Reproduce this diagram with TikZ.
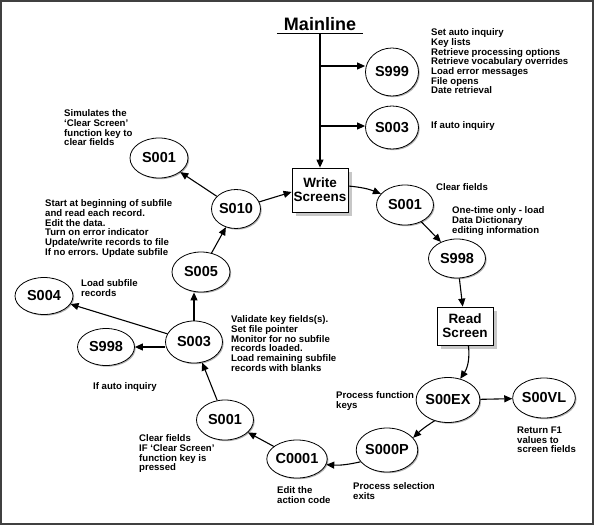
\documentclass[tikz,border=0pt]{standalone}
\usepackage{fontspec}
\setmainfont{Liberation Sans}
\usetikzlibrary{shapes.geometric,arrows.meta,shadows}
\begin{document}
\begin{tikzpicture}[x=1pt,y=-1pt,
  ell/.style={ellipse,draw,line width=0.8pt,fill=white,minimum width=57pt,minimum height=40pt,inner sep=0pt,
    font=\fontsize{14.5}{15}\selectfont\bfseries,
    drop shadow={shadow xshift=1.2pt,shadow yshift=-1.2pt,fill=black!30,opacity=1}},
  box/.style={rectangle,draw,line width=0.8pt,fill=white,minimum width=56pt,inner sep=0pt,align=center,
    font=\fontsize{13.5}{14}\selectfont\bfseries,
    drop shadow={shadow xshift=4pt,shadow yshift=-4pt,fill=black!22,opacity=1}},
  txt/.style={anchor=north west,inner sep=0pt,align=left,font=\fontsize{9.6}{9.7}\selectfont\bfseries},
  arr/.style={line width=1.1pt,-{Triangle[length=8pt,width=7pt]}},
]
\useasboundingbox (0,0) rectangle (594,525);
\draw[line width=1.6pt,black!75] (0.8,0.8) rectangle (593.2,524.2);

% nodes
\node[font=\fontsize{18}{20}\selectfont\bfseries,inner xsep=7pt,inner ysep=2.5pt,anchor=base] (ml) at (320,30.5) {Mainline};
\node[ell,minimum width=53pt,minimum height=48pt] (s999) at (392,72) {S999};
\node[ell,minimum width=53pt,minimum height=43pt] (s003t) at (392,127.5) {S003};
\node[box,minimum height=44pt] (ws) at (320,190) {Write\\Screens};
\node[ell] (s001r) at (405,205) {S001};
\node[ell,minimum height=39pt] (s998r) at (457,258.5) {S998};
\node[box,minimum height=38pt] (rs) at (465,326) {Read\\Screen};
\node[ell,minimum height=45pt] (s00ex) at (448,400) {S00EX};
\node[ell,minimum width=58pt] (s00vl) at (544,398) {S00VL};
\node[ell,minimum width=58pt,minimum height=44pt] (s000p) at (387,450) {S000P};
\node[ell,minimum height=38pt] (c0001) at (297,459) {C0001};
\node[ell] (s001b) at (225,420) {S001};
\node[ell,minimum height=42pt] (s003) at (194,342) {S003};
\node[ell,minimum height=37pt] (s998l) at (106,347) {S998};
\node[ell,minimum width=58pt,minimum height=37pt] (s004) at (44,296) {S004};
\node[ell,minimum width=58pt] (s005) at (201,272) {S005};
\node[ell,minimum width=49pt,minimum height=39pt] (s010) at (236,209) {S010};
\node[ell,minimum width=58pt] (s001l) at (159,158) {S001};

% texts
\node[txt] (t999) at (431,28.5) {Set auto inquiry\\Key lists\\Retrieve processing options\\Retrieve vocabulary overrides\\Load error messages\\File opens\\Date retrieval};
\node[txt] (t003) at (431,121.5) {If auto inquiry};
\node[txt] (tclr) at (436,183.5) {Clear fields};
\node[txt] (tone) at (452,206.5) {One-time only - load\\Data Dictionary\\editing information};
\node[txt] (tsim) at (64,109.5) {Simulates the\\`Clear Screen'\\function key to\\clear fields};
\node[txt] (tstart) at (45,199.5) {Start at beginning of subfile\\and read each record.\\Edit the data.\\Turn on error indicator\\Update/write records to file\\If no errors. Update subfile};
\node[txt] (tload) at (81,279.5) {Load subfile\\records};
\node[txt] (tval) at (231,315.5) {Validate key fields(s).\\Set file pointer\\Monitor for no subfile\\records loaded.\\Load remaining subfile\\records with blanks};
\node[txt] (tauto) at (93,382.5) {If auto inquiry};
\node[txt] (tpf) at (336,391.5) {Process function\\keys};
\node[txt] (tret) at (517,426.5) {Return F1\\values to\\screen fields};
\node[txt] (tps) at (353,482.5) {Process selection\\exits};
\node[txt] (tedit) at (277,486.5) {Edit the\\action code};
\node[txt] (tcf) at (139,434.5) {Clear fields\\IF `Clear Screen'\\function key is\\pressed};

% connectors
\draw[line width=1.1pt] (ml.south west) -- (ml.south east);
\draw[arr] (ml.south) -- (ws.north);
\coordinate (b1) at (320,66);
\coordinate (b2) at (320,126);
\draw[arr] (b1) -- (b1 -| s999.west);
\draw[arr] (b2) -- (b2 -| s003t.west);
\draw[arr] (ws.8) to[bend left=8] (s001r.155);
\draw[arr] (s001r) -- (s998r);
\draw[arr] (s998r) -- (rs);
\draw[arr] (rs.-80) to[bend left=20] (s00ex.60);
\draw[arr] (s00ex) -- (s00vl);
\draw[arr] (s00ex.237) to[bend right=6] (s000p.25);
\draw[arr] (s000p.204) to[bend left=8] (c0001.-11);
\draw[arr] (c0001) -- (s001b);
\draw[arr] (s001b) -- (s003);
\draw[arr] (s003.north) -- (s003.north |- s005.south);
\draw[arr] (s003) -- (s004);
\draw[arr] (s003.west |- s998l.east) -- (s998l.east);
\draw[arr] (s005) -- (s010);
\draw[arr] (s010) -- (s001l);
\draw[arr] (s010) -- (ws.184);
\end{tikzpicture}
\end{document}
